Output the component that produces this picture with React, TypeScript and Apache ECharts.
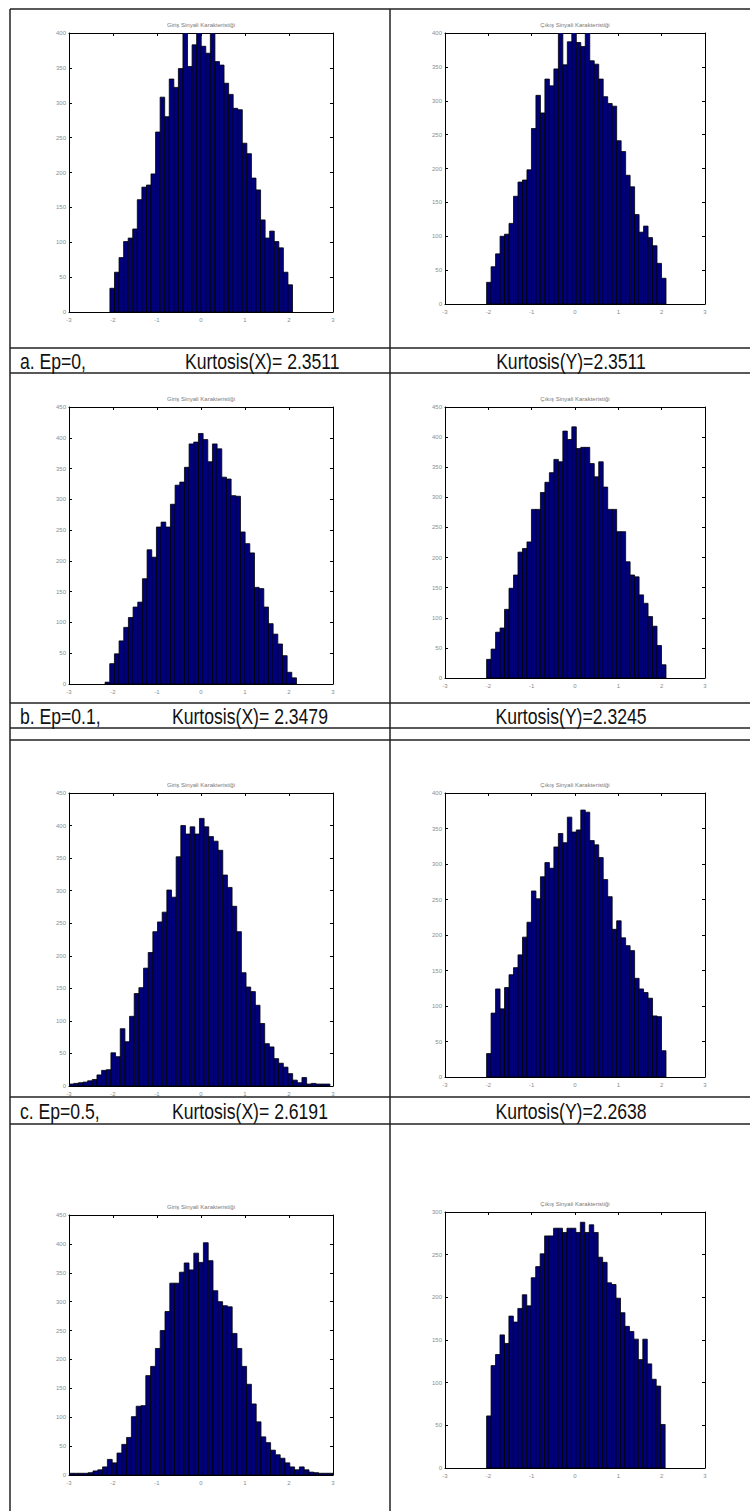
import React, { useEffect, useRef } from "react";
import * as echarts from "echarts";

// Bin counts of each histogram, left to right
const countsXa = [34, 57, 78, 101, 106, 119, 161, 179, 182, 198, 258, 308, 280, 334, 322, 349, 420, 352, 383, 412, 381, 371, 416, 359, 354, 328, 312, 292, 290, 242, 227, 192, 175, 132, 106, 116, 101, 92, 57, 39];
const countsYa = [32, 55, 74, 100, 103, 119, 159, 180, 183, 198, 259, 308, 282, 332, 322, 347, 420, 353, 387, 412, 386, 380, 416, 359, 354, 332, 306, 296, 292, 241, 225, 190, 173, 132, 106, 115, 98, 86, 60, 38];
const countsXb = [3, 33, 49, 70, 92, 108, 125, 133, 171, 218, 206, 255, 263, 255, 292, 323, 328, 352, 390, 393, 407, 397, 361, 390, 382, 336, 333, 306, 305, 247, 228, 213, 157, 155, 125, 98, 81, 65, 46, 19, 10];
const countsYb = [31, 48, 76, 83, 114, 149, 171, 209, 215, 226, 280, 280, 308, 325, 341, 363, 359, 410, 396, 417, 381, 383, 383, 356, 334, 359, 317, 280, 280, 243, 243, 193, 171, 168, 138, 124, 102, 86, 54, 22];
const countsXc = [3, 4, 5, 6, 8, 10, 17, 24, 25, 51, 45, 88, 68, 107, 142, 151, 181, 205, 237, 252, 267, 301, 290, 352, 400, 387, 398, 387, 411, 398, 383, 376, 362, 324, 305, 276, 237, 174, 152, 145, 124, 96, 65, 60, 42, 35, 29, 19, 9, 5, 13, 3, 4, 3, 3, 3];
const countsYc = [33, 90, 124, 96, 126, 144, 154, 172, 197, 218, 262, 251, 282, 302, 294, 324, 343, 330, 366, 345, 348, 376, 373, 333, 327, 309, 278, 254, 208, 220, 196, 185, 178, 139, 124, 119, 111, 86, 85, 37];
const countsXd = [3, 3, 3, 3, 4, 7, 9, 14, 27, 21, 38, 53, 65, 101, 119, 120, 172, 188, 219, 250, 283, 332, 332, 351, 367, 355, 384, 368, 402, 371, 319, 300, 293, 291, 245, 219, 188, 157, 123, 92, 66, 56, 43, 35, 29, 21, 14, 9, 14, 9, 5, 4, 3, 3, 3];
const countsYd = [61, 120, 133, 156, 146, 178, 171, 187, 203, 190, 223, 236, 251, 272, 272, 281, 281, 276, 281, 281, 276, 288, 276, 285, 276, 247, 241, 217, 215, 199, 182, 166, 160, 151, 127, 151, 122, 104, 96, 51];

// Range of values covered by the bins of each histogram
const rangeXa = [-2.07, 2.08];
const rangeYa = [-2.04, 2.1];
const rangeXb = [-2.18, 2.17];
const rangeYb = [-2.04, 2.1];
const rangeXc = [-3.0, 2.93];
const rangeYc = [-2.04, 2.1];
const rangeXd = [-3.0, 3.0];
const rangeYd = [-2.04, 2.08];

// Axis scales
const xMin = -3;
const xMax = 3;
const yMaxes = [400, 400, 450, 450, 450, 400, 450, 300];

const titleX = "Giriş Sinyali Karakteristiği";
const titleY = "Çıkış Sinyali Karakteristiği";

const rowTags = ["a. Ep=0,", "b. Ep=0.1,", "c. Ep=0.5,"];
const kurtosisX = ["Kurtosis(X)= 2.3511", "Kurtosis(X)= 2.3479", "Kurtosis(X)= 2.6191"];
const kurtosisY = ["Kurtosis(Y)=2.3511", "Kurtosis(Y)=2.3245", "Kurtosis(Y)=2.2638"];

const panelCounts = [countsXa, countsYa, countsXb, countsYb, countsXc, countsYc, countsXd, countsYd];
const panelRanges = [rangeXa, rangeYa, rangeXb, rangeYb, rangeXc, rangeYc, rangeXd, rangeYd];

// Plot boxes on the page
const boxes = [
  { left: 69, top: 33, width: 264, height: 279 },
  { left: 445, top: 33, width: 260, height: 271 },
  { left: 69, top: 407, width: 264, height: 277 },
  { left: 445, top: 407, width: 260, height: 271 },
  { left: 69, top: 793, width: 264, height: 293 },
  { left: 445, top: 793, width: 260, height: 284 },
  { left: 69, top: 1215, width: 264, height: 260 },
  { left: 445, top: 1212, width: 260, height: 256 },
];

const captionRows = [
  { y: 361, kx: 185 },
  { y: 716, kx: 172 },
  { y: 1111, kx: 172 },
];
const hLines = [9, 348, 373, 703, 728, 740, 1097, 1124];
const vLines = [10, 390];

const W = 750;
const H = 1511;

function binsOf(counts: number[], range: number[]) {
  const step = (range[1] - range[0]) / counts.length;
  return counts.map((c, i) => [range[0] + i * step, range[0] + (i + 1) * step, c]);
}

export default function App() {
  const ref = useRef<HTMLDivElement>(null);

  useEffect(() => {
    if (!ref.current) return;
    const chart = echarts.init(ref.current, null, { renderer: "svg" });

    const grids: any[] = [];
    const xAxes: any[] = [];
    const yAxes: any[] = [];
    const series: any[] = [];
    const graphics: any[] = [];

    const tickLabel = { fontSize: 6, color: "#8c8c8c", fontFamily: "Liberation Sans" };
    const lineStyle = { color: "#000", width: 1 };

    boxes.forEach((b, i) => {
      grids.push({ left: b.left, top: b.top, width: b.width, height: b.height, show: false });
      xAxes.push({
        type: "value", gridIndex: i, min: xMin, max: xMax, interval: 1, position: "bottom",
        axisLine: { show: true, onZero: false, lineStyle },
        axisTick: { show: true, inside: true, length: 3, lineStyle },
        axisLabel: { ...tickLabel, margin: 5 },
        splitLine: { show: false },
      });
      xAxes.push({
        type: "value", gridIndex: i, min: xMin, max: xMax, interval: 1, position: "top",
        axisLine: { show: true, onZero: false, lineStyle },
        axisTick: { show: true, inside: true, length: 3, lineStyle },
        axisLabel: { show: false },
        splitLine: { show: false },
      });
      yAxes.push({
        type: "value", gridIndex: i, min: 0, max: yMaxes[i], interval: 50, position: "left",
        axisLine: { show: true, onZero: false, lineStyle },
        axisTick: { show: true, inside: true, length: 3, lineStyle },
        axisLabel: { ...tickLabel, margin: 3 },
        splitLine: { show: false },
      });
      yAxes.push({
        type: "value", gridIndex: i, min: 0, max: yMaxes[i], interval: 50, position: "right",
        axisLine: { show: true, onZero: false, lineStyle },
        axisTick: { show: true, inside: true, length: 3, lineStyle },
        axisLabel: { show: false },
        splitLine: { show: false },
      });
      series.push({
        type: "custom",
        xAxisIndex: 2 * i,
        yAxisIndex: 2 * i,
        clip: true,
        encode: { x: [0, 1], y: 2 },
        data: binsOf(panelCounts[i], panelRanges[i]),
        renderItem: (_params: any, api: any) => {
          const p0 = api.coord([api.value(0), api.value(2)]);
          const p1 = api.coord([api.value(1), 0]);
          return {
            type: "rect",
            shape: { x: p0[0], y: p0[1], width: p1[0] - p0[0], height: p1[1] - p0[1] },
            style: { fill: "#00007a", stroke: "#000", lineWidth: 0.8 },
          };
        },
      });
      graphics.push({
        type: "text",
        x: b.left + b.width / 2,
        y: b.top - 8,
        style: {
          text: i % 2 === 0 ? titleX : titleY,
          fontSize: 6,
          fontFamily: "Liberation Sans",
          fill: "#7a7a7a",
          textAlign: "center",
          textVerticalAlign: "middle",
        },
      });
    });

    // Table rules
    hLines.forEach((y) => {
      graphics.push({ type: "line", shape: { x1: 10, y1: y, x2: W, y2: y }, style: { stroke: "#222", lineWidth: 1.5 } });
    });
    vLines.forEach((x) => {
      graphics.push({ type: "line", shape: { x1: x, y1: 9, x2: x, y2: H }, style: { stroke: "#222", lineWidth: 1.5 } });
    });

    // Captions under each row, in a narrow face
    const captionFont = { fontSize: 22, fontFamily: "Liberation Sans", fill: "#111", textVerticalAlign: "middle" };
    const narrow = 0.8;
    captionRows.forEach((r, i) => {
      graphics.push({ type: "text", x: 20, y: r.y, scaleX: narrow, style: { ...captionFont, text: rowTags[i], textAlign: "left" } });
      graphics.push({ type: "text", x: r.kx, y: r.y, scaleX: narrow, style: { ...captionFont, text: kurtosisX[i], textAlign: "left" } });
      graphics.push({ type: "text", x: 571, y: r.y, scaleX: narrow, style: { ...captionFont, text: kurtosisY[i], textAlign: "center" } });
    });

    chart.setOption({
      animation: false,
      backgroundColor: "#fff",
      grid: grids,
      xAxis: xAxes,
      yAxis: yAxes,
      series,
      graphic: { elements: graphics },
    });

    return () => chart.dispose();
  }, []);

  return <div ref={ref} style={{ position: "absolute", left: 0, top: 0, width: W, height: H }} />;
}
